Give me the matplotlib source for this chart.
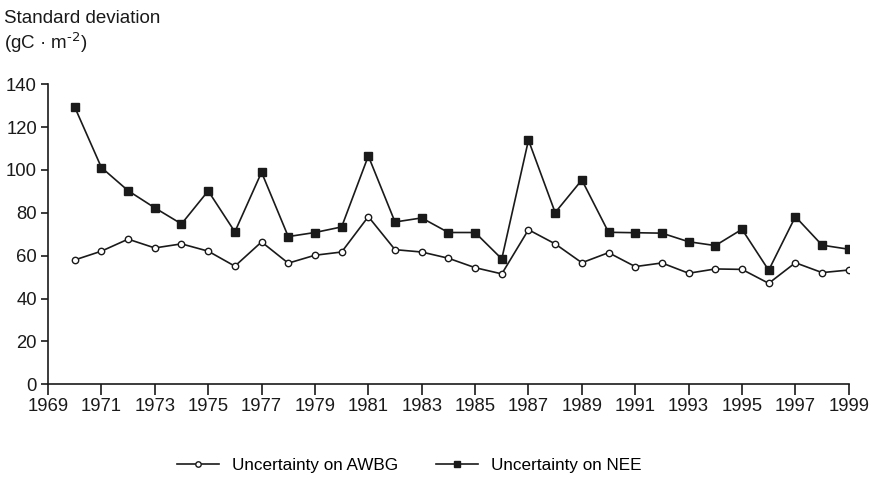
import matplotlib.pyplot as plt

plt.rcParams['font.family'] = ['Liberation Sans', 'DejaVu Sans']
plt.rcParams['mathtext.default'] = 'regular'

# data
years = list(range(1970, 2000))
awbg = [58.0, 62.1, 67.7, 63.6, 65.5, 62.1, 55.1, 66.4, 56.5, 60.2,
        61.7, 78.2, 62.8, 61.7, 58.8, 54.4, 51.5, 72.1, 65.5, 56.7,
        61.4, 54.9, 56.6, 51.8, 53.8, 53.6, 47.1, 56.7, 52.1, 53.3]
nee = [129.3, 101.1, 90.3, 82.3, 74.8, 90.2, 71.1, 98.9, 68.9, 70.8,
       73.4, 106.5, 75.7, 77.6, 70.8, 70.8, 58.5, 113.9, 80.1, 95.3,
       70.9, 70.7, 70.5, 66.5, 64.7, 72.3, 53.2, 78.2, 64.9, 63.0]
xticks = list(range(1969, 2000, 2))
yticks = list(range(0, 141, 20))

ink = '#1a1a1a'

fig = plt.figure(figsize=(8.78, 4.78), dpi=100)
ax = fig.add_axes([0.0547, 0.196, 0.912, 0.628])

ax.plot(years, awbg, color=ink, lw=1.2, marker='o', ms=4.6,
        mfc='white', mec=ink, mew=1.0, label='Uncertainty on AWBG')
ax.plot(years, nee, color=ink, lw=1.2, marker='s', ms=5.6,
        mfc=ink, mec=ink, label='Uncertainty on NEE')

ax.set_xlim(1969, 1999)
ax.set_ylim(0, 140)
ax.set_xticks(xticks)
ax.set_yticks(yticks)
ax.spines['top'].set_visible(False)
ax.spines['right'].set_visible(False)
for s in ['left', 'bottom']:
    ax.spines[s].set_color(ink)
    ax.spines[s].set_linewidth(1.2)
ax.tick_params(axis='both', colors=ink, labelsize=13.3, width=1.2)
ax.tick_params(axis='x', length=8, pad=2)
ax.tick_params(axis='y', length=5, pad=3)
ax.margins(0)

fig.text(0.005, 0.962, 'Standard deviation', fontsize=13.5, color=ink, va='center')
fig.text(0.005, 0.91, r'(gC · m$^{\text{-2}}$)', fontsize=13.5, color=ink, va='center')

fig.legend(loc='center', bbox_to_anchor=(0.466, 0.027), ncol=2, frameon=False,
           fontsize=12.3, handlelength=2.5, handletextpad=0.75,
           columnspacing=2.2, markerscale=0.85)

fig.savefig('out.png', dpi=100)
